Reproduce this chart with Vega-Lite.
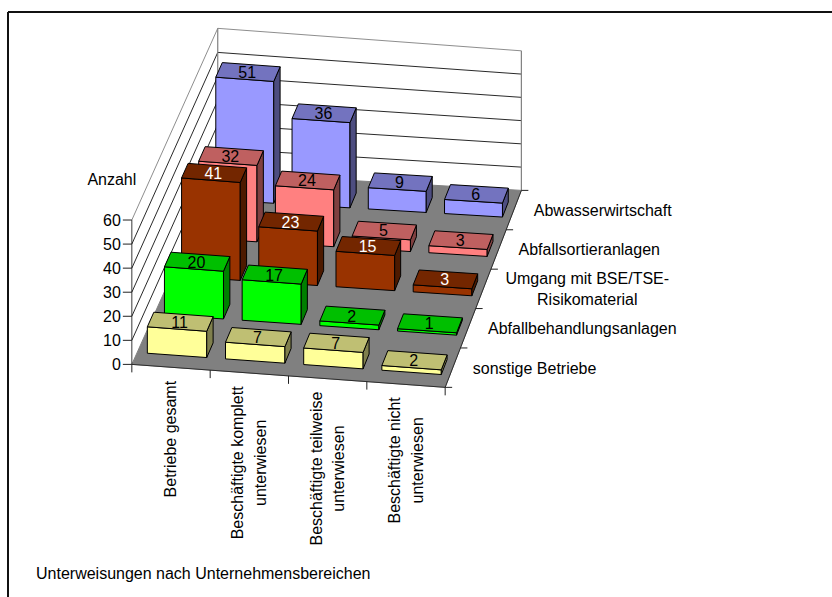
{
"$schema":"https://vega.github.io/schema/vega-lite/v6.json",
"width":832,"height":597,"padding":0,
"autosize":{"type":"fit","contains":"padding"},
"background":"white",
"config":{"view":{"stroke":null},"text":{"font":"Liberation Sans","fontSize":16,"fill":"black"}},
"datasets":{
"balken":[
{"bereich":"Abwasserwirtschaft","art":"Betriebe gesamt","anzahl":51},
{"bereich":"Abwasserwirtschaft","art":"Beschäftigte komplett unterwiesen","anzahl":36},
{"bereich":"Abwasserwirtschaft","art":"Beschäftigte teilweise unterwiesen","anzahl":9},
{"bereich":"Abwasserwirtschaft","art":"Beschäftigte nicht unterwiesen","anzahl":6},
{"bereich":"Abfallsortieranlagen","art":"Betriebe gesamt","anzahl":32},
{"bereich":"Abfallsortieranlagen","art":"Beschäftigte komplett unterwiesen","anzahl":24},
{"bereich":"Abfallsortieranlagen","art":"Beschäftigte teilweise unterwiesen","anzahl":5},
{"bereich":"Abfallsortieranlagen","art":"Beschäftigte nicht unterwiesen","anzahl":3},
{"bereich":"Umgang mit BSE/TSE-Risikomaterial","art":"Betriebe gesamt","anzahl":41},
{"bereich":"Umgang mit BSE/TSE-Risikomaterial","art":"Beschäftigte komplett unterwiesen","anzahl":23},
{"bereich":"Umgang mit BSE/TSE-Risikomaterial","art":"Beschäftigte teilweise unterwiesen","anzahl":15},
{"bereich":"Umgang mit BSE/TSE-Risikomaterial","art":"Beschäftigte nicht unterwiesen","anzahl":3},
{"bereich":"Abfallbehandlungsanlagen","art":"Betriebe gesamt","anzahl":20},
{"bereich":"Abfallbehandlungsanlagen","art":"Beschäftigte komplett unterwiesen","anzahl":17},
{"bereich":"Abfallbehandlungsanlagen","art":"Beschäftigte teilweise unterwiesen","anzahl":2},
{"bereich":"Abfallbehandlungsanlagen","art":"Beschäftigte nicht unterwiesen","anzahl":1},
{"bereich":"sonstige Betriebe","art":"Betriebe gesamt","anzahl":11},
{"bereich":"sonstige Betriebe","art":"Beschäftigte komplett unterwiesen","anzahl":7},
{"bereich":"sonstige Betriebe","art":"Beschäftigte teilweise unterwiesen","anzahl":7},
{"bereich":"sonstige Betriebe","art":"Beschäftigte nicht unterwiesen","anzahl":2}
],
"werte":[{"wert":0},{"wert":10},{"wert":20},{"wert":30},{"wert":40},{"wert":50},{"wert":60}],
"arten":[
{"art":"Betriebe gesamt","label":"Betriebe gesamt"},
{"art":"Beschäftigte komplett unterwiesen","label":"Beschäftigte komplett\nunterwiesen"},
{"art":"Beschäftigte teilweise unterwiesen","label":"Beschäftigte teilweise\nunterwiesen"},
{"art":"Beschäftigte nicht unterwiesen","label":"Beschäftigte nicht\nunterwiesen"}
],
"bereiche":[
{"bereich":"Abwasserwirtschaft","label":"Abwasserwirtschaft"},
{"bereich":"Abfallsortieranlagen","label":"Abfallsortieranlagen"},
{"bereich":"Umgang mit BSE/TSE-Risikomaterial","label":"Umgang mit BSE/TSE-\nRisikomaterial"},
{"bereich":"Abfallbehandlungsanlagen","label":"Abfallbehandlungsanlagen"},
{"bereich":"sonstige Betriebe","label":"sonstige Betriebe"}
]
},
"encoding":{
"x":{"field":"X","type":"quantitative","axis":null,"scale":{"domain":[0,832],"nice":false,"zero":false}},
"y":{"field":"Y","type":"quantitative","axis":null,"scale":{"domain":[597,0],"nice":false,"zero":false}}
},
"layer":[
{"data":{"values":[{"ecke":0},{"ecke":1},{"ecke":2},{"ecke":3}]},
"transform":[
{"calculate":"datum.ecke==1||datum.ecke==2?4:0","as":"u"},
{"calculate":"datum.ecke>=2?5:0","as":"w"},
{"calculate":"(1-datum.w/5)*(132+313.7*datum.u/4)+(datum.w/5)*(218+304*datum.u/4)","as":"X"},
{"calculate":"(1-datum.w/5)*(365+23*datum.u/4)+(datum.w/5)*(173+17.7*datum.u/4)","as":"Y"}],
"mark":{"type":"line","interpolate":"linear-closed","fill":"#808080","stroke":"#808080","strokeWidth":1},
"encoding":{"order":{"field":"ecke"}}},

{"data":{"name":"werte"},
"transform":[
{"filter":"datum.wert>0"},
{"calculate":"[0,1,2]","as":"p"},{"flatten":["p"]},
{"calculate":"datum.p==2?4:0","as":"u"},
{"calculate":"datum.p==0?0:5","as":"w"},
{"calculate":"(1-datum.w/5)*(132+313.7*datum.u/4)+(datum.w/5)*(218+304*datum.u/4)","as":"X"},
{"calculate":"(1-datum.w/5)*(365+23*datum.u/4)+(datum.w/5)*(173+17.7*datum.u/4)-datum.wert*(2.41-0.08*datum.u/4)","as":"Y"}],
"mark":{"type":"line","strokeWidth":0.9},
"encoding":{"order":{"field":"p"},"detail":{"field":"wert"},
"stroke":{"field":"wert","type":"nominal","legend":null,"scale":{"domain":[10,20,30,40,50,60],"range":["#111","#111","#111","#111","#111","#808080"]}}}},

{"data":{"values":[{"kante":"links","p":0},{"kante":"links","p":1},{"kante":"rechts","p":0},{"kante":"rechts","p":1}]},
"transform":[
{"calculate":"datum.kante=='links'?0:4","as":"u"},
{"calculate":"218+304*datum.u/4","as":"X"},
{"calculate":"(173+17.7*datum.u/4)-datum.p*60*(2.41-0.08*datum.u/4)","as":"Y"}],
"mark":{"type":"line","stroke":"#808080","strokeWidth":1.2},
"encoding":{"order":{"field":"p"},"detail":{"field":"kante"}}},

{"data":{"values":[{"achse":"wert","p":0},{"achse":"wert","p":1},{"achse":"art","p":0},{"achse":"art","p":1},{"achse":"bereich","p":0},{"achse":"bereich","p":1}]},
"transform":[
{"calculate":"datum.achse=='art'?4*datum.p:(datum.achse=='bereich'?4:0)","as":"u"},
{"calculate":"datum.achse=='bereich'?5*datum.p:0","as":"w"},
{"calculate":"datum.achse=='wert'?60*datum.p:0","as":"h"},
{"calculate":"(1-datum.w/5)*(132+313.7*datum.u/4)+(datum.w/5)*(218+304*datum.u/4)","as":"X"},
{"calculate":"(1-datum.w/5)*(365+23*datum.u/4)+(datum.w/5)*(173+17.7*datum.u/4)-datum.h*(2.41-0.08*datum.u/4)","as":"Y"}],
"mark":{"type":"line","stroke":"#222","strokeWidth":0.9},
"encoding":{"order":{"field":"p"},"detail":{"field":"achse"}}},

{"data":{"name":"werte"},
"transform":[
{"calculate":"132","as":"X"},
{"calculate":"365-datum.wert*2.41","as":"Y"},
{"calculate":"datum.X-9","as":"X2"}],
"mark":{"type":"rule","stroke":"#222","strokeWidth":1},
"encoding":{"x2":{"field":"X2"}}},

{"data":{"values":[{"pos":0},{"pos":1},{"pos":2},{"pos":3},{"pos":4}]},
"transform":[
{"calculate":"132+313.7*datum.pos/4","as":"X"},
{"calculate":"365+23*datum.pos/4","as":"Y"},
{"calculate":"datum.Y+8","as":"Y2"}],
"mark":{"type":"rule","stroke":"#222","strokeWidth":1},
"encoding":{"y2":{"field":"Y2"}}},

{"data":{"values":[{"pos":0},{"pos":1},{"pos":2},{"pos":3},{"pos":4},{"pos":5}]},
"transform":[
{"calculate":"445.7+76.3*datum.pos/5","as":"X"},
{"calculate":"388-197.3*datum.pos/5","as":"Y"},
{"calculate":"datum.X+7","as":"X2"}],
"mark":{"type":"rule","stroke":"#222","strokeWidth":1},
"encoding":{"x2":{"field":"X2"}}},

{"data":{"name":"balken"},
"transform":[
{"calculate":"indexof(['Betriebe gesamt','Beschäftigte komplett unterwiesen','Beschäftigte teilweise unterwiesen','Beschäftigte nicht unterwiesen'],datum.art)","as":"c"},
{"calculate":"indexof(['sonstige Betriebe','Abfallbehandlungsanlagen','Umgang mit BSE/TSE-Risikomaterial','Abfallsortieranlagen','Abwasserwirtschaft'],datum.bereich)","as":"r"},
{"calculate":"['front','right','top']","as":"face"},{"flatten":["face"]},
{"calculate":"[0,1,2,3]","as":"ecke"},{"flatten":["ecke"]},
{"calculate":"datum.face=='right'?datum.c+0.89:((datum.ecke==1||datum.ecke==2)?datum.c+0.89:datum.c+0.13)","as":"u"},
{"calculate":"datum.face=='front'?datum.r+0.31:(datum.face=='top'?(datum.ecke>=2?datum.r+0.69:datum.r+0.31):((datum.ecke==1||datum.ecke==2)?datum.r+0.69:datum.r+0.31))","as":"w"},
{"calculate":"datum.face=='top'?datum.anzahl:(datum.ecke>=2?datum.anzahl:0)","as":"h"},
{"calculate":"(1-datum.w/5)*(132+313.7*datum.u/4)+(datum.w/5)*(218+304*datum.u/4)","as":"X"},
{"calculate":"(1-datum.w/5)*(365+23*datum.u/4)+(datum.w/5)*(173+17.7*datum.u/4)-datum.h*(2.41-0.08*datum.u/4)","as":"Y"},
{"calculate":"datum.bereich+'|'+datum.face","as":"flaeche"},
{"calculate":"datum.bereich+'|'+datum.art+'|'+datum.face","as":"key"}],
"mark":{"type":"line","interpolate":"linear-closed","stroke":"#000","strokeWidth":1,"filled":true},
"encoding":{"order":{"field":"ecke"},"detail":{"field":"key"},
"fill":{"field":"flaeche","type":"nominal","legend":null,"scale":{
"domain":["Abwasserwirtschaft|front","Abwasserwirtschaft|top","Abwasserwirtschaft|right","Abfallsortieranlagen|front","Abfallsortieranlagen|top","Abfallsortieranlagen|right","Umgang mit BSE/TSE-Risikomaterial|front","Umgang mit BSE/TSE-Risikomaterial|top","Umgang mit BSE/TSE-Risikomaterial|right","Abfallbehandlungsanlagen|front","Abfallbehandlungsanlagen|top","Abfallbehandlungsanlagen|right","sonstige Betriebe|front","sonstige Betriebe|top","sonstige Betriebe|right"],
"range":["#9999ff","#7373bf","#4d4d80","#ff8080","#bf6060","#804040","#993300","#732600","#4d1a00","#00ff00","#00bf00","#008000","#ffff99","#bfbf73","#80804d"]}}}},

{"data":{"name":"balken"},
"transform":[
{"calculate":"indexof(['Betriebe gesamt','Beschäftigte komplett unterwiesen','Beschäftigte teilweise unterwiesen','Beschäftigte nicht unterwiesen'],datum.art)+0.5","as":"u"},
{"calculate":"indexof(['sonstige Betriebe','Abfallbehandlungsanlagen','Umgang mit BSE/TSE-Risikomaterial','Abfallsortieranlagen','Abwasserwirtschaft'],datum.bereich)+0.5","as":"w"},
{"calculate":"(1-datum.w/5)*(132+313.7*datum.u/4)+(datum.w/5)*(218+304*datum.u/4)","as":"X"},
{"calculate":"(1-datum.w/5)*(365+23*datum.u/4)+(datum.w/5)*(173+17.7*datum.u/4)-datum.anzahl*(2.41-0.08*datum.u/4)","as":"Y"}],
"mark":{"type":"text","align":"center","baseline":"middle","dy":1},
"encoding":{"text":{"field":"anzahl"},
"color":{"condition":{"test":"datum.bereich=='Umgang mit BSE/TSE-Risikomaterial'","value":"white"},"value":"black"}}},

{"data":{"name":"werte"},
"transform":[{"calculate":"132","as":"X"},{"calculate":"365-datum.wert*2.41","as":"Y"}],
"mark":{"type":"text","align":"right","baseline":"middle","dx":-11,"dy":1},
"encoding":{"text":{"field":"wert"}}},

{"data":{"values":[{"t":"Anzahl","wert":60}]},
"transform":[{"calculate":"132","as":"X"},{"calculate":"365-datum.wert*2.41","as":"Y"}],
"mark":{"type":"text","align":"center","baseline":"middle","dx":-20,"dy":-40},
"encoding":{"text":{"field":"t"}}},

{"data":{"name":"bereiche"},
"transform":[
{"filter":"datum.bereich!='Umgang mit BSE/TSE-Risikomaterial'"},
{"calculate":"indexof(['sonstige Betriebe','Abfallbehandlungsanlagen','Umgang mit BSE/TSE-Risikomaterial','Abfallsortieranlagen','Abwasserwirtschaft'],datum.bereich)+0.5","as":"w"},
{"calculate":"445.7+76.3*datum.w/5","as":"X"},
{"calculate":"388-197.3*datum.w/5","as":"Y"}],
"mark":{"type":"text","align":"left","baseline":"middle","dx":20,"dy":1},
"encoding":{"text":{"field":"label"}}},

{"data":{"name":"bereiche"},
"transform":[
{"filter":"datum.bereich=='Umgang mit BSE/TSE-Risikomaterial'"},
{"calculate":"2.5","as":"w"},
{"calculate":"445.7+76.3*datum.w/5","as":"X"},
{"calculate":"388-197.3*datum.w/5","as":"Y"}],
"mark":{"type":"text","align":"center","baseline":"middle","lineBreak":"\n","lineHeight":21,"dx":104,"dy":-10},
"encoding":{"text":{"field":"label"}}},

{"data":{"name":"arten"},
"transform":[
{"calculate":"indexof(['Betriebe gesamt','Beschäftigte komplett unterwiesen','Beschäftigte teilweise unterwiesen','Beschäftigte nicht unterwiesen'],datum.art)+0.5","as":"u"},
{"calculate":"132+313.7*datum.u/4-(datum.art=='Betriebe gesamt'?0:11)","as":"X"},
{"calculate":"365+23*datum.u/4+12+({'Betriebe gesamt':60,'Beschäftigte komplett unterwiesen':78,'Beschäftigte teilweise unterwiesen':78,'Beschäftigte nicht unterwiesen':64})[datum.art]","as":"Y"}],
"mark":{"type":"text","align":"center","baseline":"middle","angle":270,"lineBreak":"\n","lineHeight":22.5},
"encoding":{"text":{"field":"label"}}},

{"data":{"values":[{"t":"Unterweisungen nach Unternehmensbereichen"}]},
"mark":{"type":"text","align":"left","baseline":"middle"},
"encoding":{"x":{"value":36},"y":{"value":574},"text":{"field":"t"}}},

{"data":{"values":[{"r":"links"}]},
"mark":{"type":"rule","stroke":"#111","strokeWidth":2},
"encoding":{"x":{"value":8},"y":{"value":12},"y2":{"value":597}}},

{"data":{"values":[{"r":"oben"}]},
"mark":{"type":"rule","stroke":"#111","strokeWidth":2},
"encoding":{"x":{"value":8},"x2":{"value":832},"y":{"value":12}}}
]
}
